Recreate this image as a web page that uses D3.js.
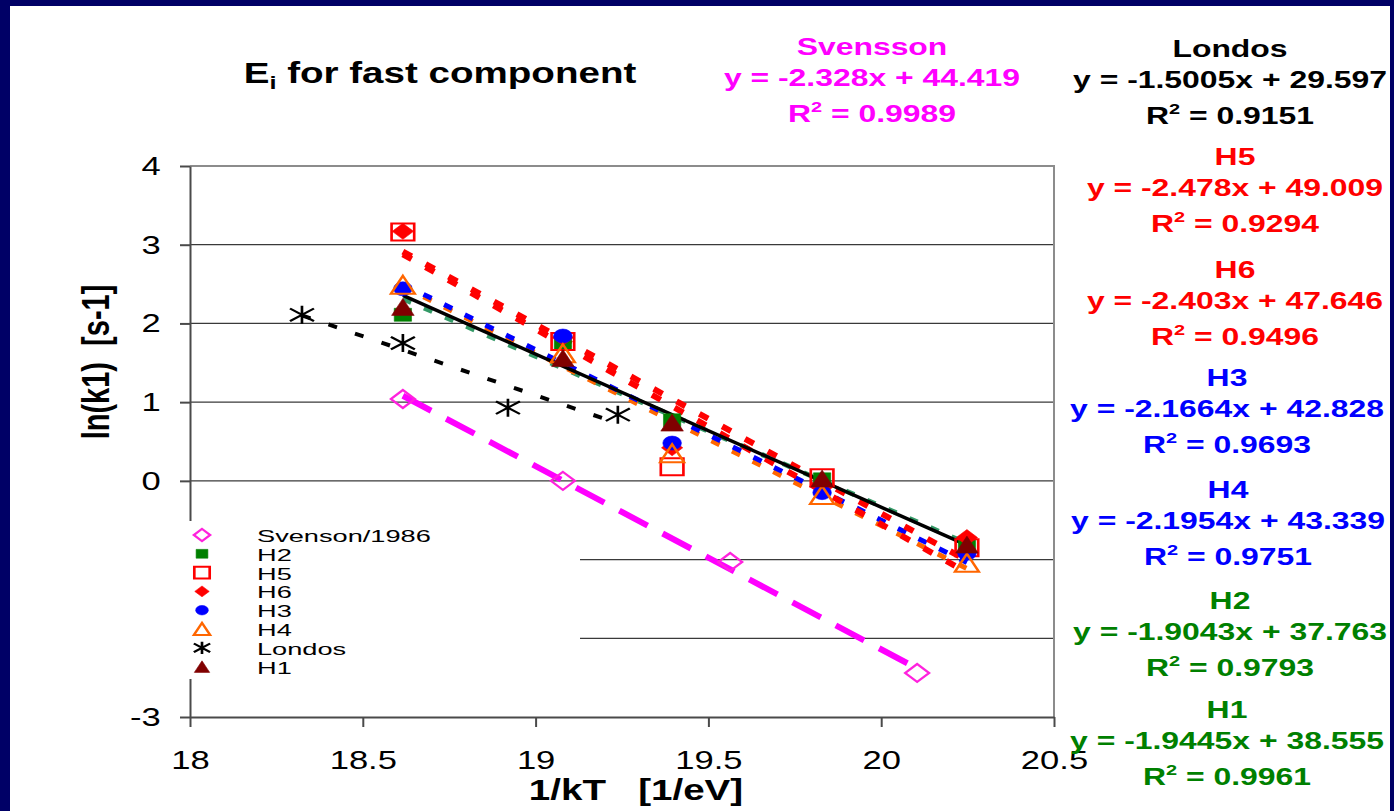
<!DOCTYPE html>
<html>
<head>
<meta charset="utf-8">
<script src="https://cdn.jsdelivr.net/npm/d3@7"></script>
<style>
body { margin: 0; background: #000066; }
svg text { font-family: "Liberation Sans", Arial, sans-serif; white-space: pre; }
</style>
</head>
<body>
<svg id="chart" width="1394" height="811"></svg>
<script>
// values
var series_names = ['Svenson/1986', 'H2', 'H5', 'H6', 'H3', 'H4', 'Londos', 'H1'];
var h_x = [18.616, 19.079, 19.395, 19.829, 20.248];
var svensson_x = [18.616, 19.079, 19.563, 20.104];
var svensson_y = [1.04, 0.0, -1.03, -2.44];
var h2_y = [2.11, 1.74, 0.77, 0.02, -0.80];
var h5_y = [3.16, 1.77, 0.18, 0.04, -0.85];
var h6_y = [3.17, 1.82, 0.42, -0.08, -0.72];
var h3_y = [2.44, 1.84, 0.48, -0.15, -0.92];
var h4_y = [2.49, 1.62, 0.35, -0.18, -1.04];
var londos_x = [18.324, 18.616, 18.92, 19.238];
var londos_y = [2.11, 1.75, 0.93, 0.84];
var h1_y = [2.21, 1.56, 0.74, 0.03, -0.81];

// trend line fits, as printed on the chart
var fit_names = ['Svensson', 'Londos', 'H5', 'H6', 'H3', 'H4', 'H2', 'H1'];
var fit_slopes = ['-2.328', '-1.5005', '-2.478', '-2.403', '-2.1664', '-2.1954', '-1.9043', '-1.9445'];
var fit_intercepts = ['44.419', '29.597', '49.009', '47.646', '42.828', '43.339', '37.763', '38.555'];
var fit_r2 = ['0.9989', '0.9151', '0.9294', '0.9496', '0.9693', '0.9751', '0.9793', '0.9961'];

var x_ticks = [18, 18.5, 19, 19.5, 20, 20.5];
var y_ticks = [-3, -2, -1, 0, 1, 2, 3, 4];

var SX = 1.33; // the slide is stretched sideways

var series = [
  {name: series_names[0], xs: svensson_x, ys: svensson_y, shape: 'diamond', color: '#ff22dd', fill: 'none', size: 9},
  {name: series_names[1], xs: h_x, ys: h2_y, shape: 'square', color: '#008000', fill: '#008000', size: 6.5},
  {name: series_names[2], xs: h_x, ys: h5_y, shape: 'square', color: '#ff0000', fill: 'none', size: 8.5},
  {name: series_names[3], xs: h_x, ys: h6_y, shape: 'diamond', color: '#ff0000', fill: '#ff0000', size: 8},
  {name: series_names[4], xs: h_x, ys: h3_y, shape: 'circle', color: '#0000ff', fill: '#0000ff', size: 7},
  {name: series_names[5], xs: h_x, ys: h4_y, shape: 'triangle', color: '#ff6600', fill: 'none', size: 9},
  {name: series_names[6], xs: londos_x, ys: londos_y, shape: 'star', color: '#000000', fill: 'none', size: 9},
  {name: series_names[7], xs: h_x, ys: h1_y, shape: 'triangle', color: '#800000', fill: '#800000', size: 8.5}
];

var fit_style = {
  'Svensson': {series: 'Svenson/1986', color: '#ff00ff', width: 6, dash: '32,17', text: '#ff00ff'},
  'Londos': {series: 'Londos', color: '#000000', width: 4, dash: '9,19', text: '#000000'},
  'H5': {series: 'H5', color: '#ff0000', width: 6, dash: '10,16', text: '#ff0000'},
  'H6': {series: 'H6', color: '#ff0000', width: 6, dash: '10,16', text: '#ff0000'},
  'H3': {series: 'H3', color: '#0000ff', width: 5, dash: '9,14', text: '#0000ff'},
  'H4': {series: 'H4', color: '#ff6600', width: 5, dash: '9,14', text: '#0000ff'},
  'H2': {series: 'H2', color: '#339966', width: 5, dash: '9,14', text: '#008000'},
  'H1': {series: 'H1', color: '#000000', width: 3.5, dash: null, text: '#008000'}
};
var fit_draw_order = ['H2', 'H4', 'H3', 'H6', 'H5', 'Londos', 'Svensson', 'H1'];
var fit_label_pos = [[872, 55], [1230, 57], [1235, 165], [1235, 278], [1227, 386], [1228, 498], [1230, 609], [1227, 718]];

var svg = d3.select('#chart');
svg.append('rect').attr('width', 1394).attr('height', 811).attr('fill', '#000066');
svg.append('rect').attr('x', 10).attr('y', 6).attr('width', 1380).attr('height', 805).attr('fill', 'white');

var x = d3.scaleLinear().domain([18, 20.5]).range([190, 1054]);
var y = d3.scaleLinear().domain([-3, 4]).range([717, 166]);

function marker_path(shape, s) {
  if (shape === 'square') {
    return 'M' + (-s) + ',' + (-s) + 'H' + s + 'V' + s + 'H' + (-s) + 'Z';
  } else if (shape === 'diamond') {
    return 'M0,' + (-s) + 'L' + s + ',0L0,' + s + 'L' + (-s) + ',0Z';
  } else if (shape === 'circle') {
    return 'M' + s + ',0A' + s + ',' + s + ' 0 1,1 ' + (-s) + ',0A' + s + ',' + s + ' 0 1,1 ' + s + ',0Z';
  } else if (shape === 'triangle') {
    return 'M0,' + (-s) + 'L' + s + ',' + s + 'L' + (-s) + ',' + s + 'Z';
  } else {
    return 'M0,' + (-s) + 'V' + s + 'M' + (-s) + ',' + (-s * 0.7) + 'L' + s + ',' + (s * 0.7) +
      'M' + s + ',' + (-s * 0.7) + 'L' + (-s) + ',' + (s * 0.7);
  }
}

function draw_marker(g, d, px, py, k) {
  g.append('path')
    .attr('d', marker_path(d.shape, d.size * k))
    .attr('transform', 'translate(' + px + ',' + py + ') scale(' + SX + ',1)')
    .attr('fill', d.fill)
    .attr('stroke', d.color)
    .attr('stroke-width', d.fill === 'none' ? 2 : 0.5);
}

function stretched_text(parent, px, py, anchor, size, weight, color, sx) {
  return parent.append('text')
    .attr('transform', 'translate(' + px + ',' + py + ') scale(' + (sx || SX) + ',1)')
    .attr('text-anchor', anchor)
    .style('font-size', size + 'px')
    .style('font-weight', weight)
    .attr('fill', color);
}

// grid
var grid = svg.append('g');
y_ticks.forEach(function(v) {
  if (v === -3 || v === 4) return;
  grid.append('line')
    .attr('x1', x(18)).attr('x2', x(20.5))
    .attr('y1', y(v)).attr('y2', y(v))
    .attr('stroke', '#3a3a3a').attr('stroke-width', 1.3);
});
svg.append('path')
  .attr('d', 'M' + x(18) + ',' + y(4) + 'H' + x(20.5) + 'V' + y(-3))
  .attr('fill', 'none').attr('stroke', '#8c8c8c').attr('stroke-width', 2);

// axes
var y_axis = svg.append('g')
  .attr('transform', 'translate(' + x(18) + ',0)')
  .call(d3.axisLeft(y).tickValues(y_ticks).tickFormat(function(d) { return String(d); })
    .tickSize(10).tickSizeOuter(0).tickPadding(12));
var x_axis = svg.append('g')
  .attr('transform', 'translate(0,' + y(-3) + ')')
  .call(d3.axisBottom(x).tickValues(x_ticks).tickFormat(function(d) { return String(d); })
    .tickSize(10).tickSizeOuter(0).tickPadding(24));
[y_axis, x_axis].forEach(function(a) {
  a.attr('font-size', 26).attr('font-family', null);
  a.selectAll('path, line').attr('stroke', '#4a4a4a').attr('stroke-width', 2);
  a.selectAll('text').attr('fill', '#000').attr('transform', 'scale(' + SX + ',1)');
});

// trend lines
var lines = svg.append('g');
fit_draw_order.forEach(function(name) {
  var i = fit_names.indexOf(name);
  var st = fit_style[name];
  var s = series.filter(function(d) { return d.name === st.series; })[0];
  var m = +fit_slopes[i], b = +fit_intercepts[i];
  var x0 = d3.min(s.xs), x1 = d3.max(s.xs);
  var ln = lines.append('line')
    .attr('x1', x(x0)).attr('y1', y(m * x0 + b))
    .attr('x2', x(x1)).attr('y2', y(m * x1 + b))
    .attr('stroke', st.color)
    .attr('stroke-width', st.width);
  if (st.dash) ln.attr('stroke-dasharray', st.dash);
});

// markers
var marks = svg.append('g');
series.forEach(function(s) {
  s.xs.forEach(function(v, j) {
    draw_marker(marks, s, x(v), y(s.ys[j]), 1);
  });
});

// legend
var legend = svg.append('g');
svg.append('clipPath').attr('id', 'legend-clip')
  .append('rect').attr('x', 130).attr('y', 521).attr('width', 450).attr('height', 158);
legend.append('rect').attr('x', 130).attr('y', 521).attr('width', 450).attr('height', 158).attr('fill', 'white');
series.forEach(function(s, i) {
  var ry = 535 + i * 18.8;
  draw_marker(legend, s, 202, ry, 0.68);
  stretched_text(legend, 257, ry + 7, 'start', 17, 'normal', '#000', 1.6).text(s.name);
});
stretched_text(legend, 368, 690, 'start', 17, 'normal', '#000', 1.6)
  .attr('clip-path', 'url(#legend-clip)')
  .text('(Svensson et al.)');

// titles
var title = stretched_text(svg, 440, 83, 'middle', 29, 'bold', '#000');
title.append('tspan').text('E');
title.append('tspan').attr('dy', 6).style('font-size', '19px').text('i');
title.append('tspan').attr('dy', -6).text(' for fast component');

stretched_text(svg, 636, 800, 'middle', 29, 'bold', '#000').text('1/kT   [1/eV]');
svg.append('text')
  .attr('transform', 'translate(109,362) scale(' + SX + ',1) rotate(-90)')
  .attr('text-anchor', 'middle')
  .style('font-size', '29px').style('font-weight', 'bold')
  .attr('fill', '#000')
  .text('ln(k1)  [s-1]');

// fit equations
fit_names.forEach(function(name, i) {
  var p = fit_label_pos[i];
  var c = fit_style[name].text;
  stretched_text(svg, p[0], p[1], 'middle', 24, 'bold', c).text(name);
  stretched_text(svg, p[0], p[1] + 31, 'middle', 24, 'bold', c)
    .text('y = ' + fit_slopes[i] + 'x + ' + fit_intercepts[i]);
  var r = stretched_text(svg, p[0], p[1] + 67, 'middle', 24, 'bold', c);
  r.append('tspan').text('R');
  r.append('tspan').attr('dy', -10).style('font-size', '15px').text('2');
  r.append('tspan').attr('dy', 10).text(' = ' + fit_r2[i]);
});
</script>
</body>
</html>
